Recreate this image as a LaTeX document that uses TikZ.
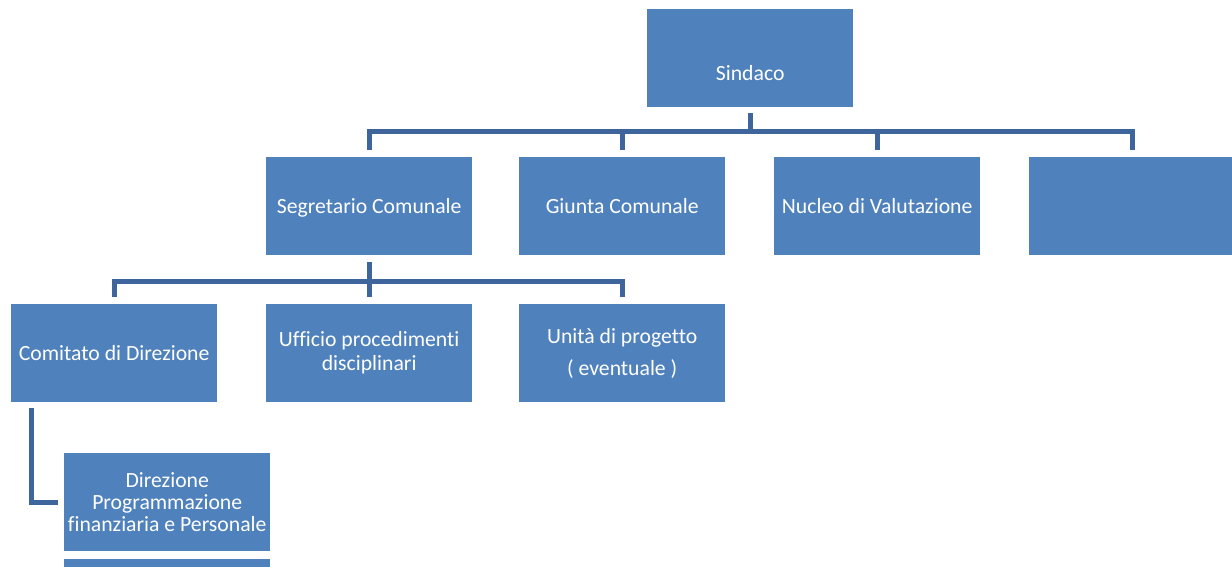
\documentclass[tikz,border=0pt]{standalone}
\usepackage{fontspec}
\setmainfont{Carlito}[Ligatures=NoCommon]
\definecolor{boxblue}{RGB}{79,129,189}
\definecolor{lineblue}{RGB}{62,102,156}
\begin{document}
\begin{tikzpicture}[x=1pt,y=-1pt,
  box/.style={fill=boxblue, minimum width=206pt, minimum height=98pt,
    inner sep=2pt, text=white, font=\fontsize{21.7}{24}\selectfont,
    align=center, anchor=north west},
  oneline/.style={text height=14pt, text depth=0pt},
  txt/.style={text=white, font=\fontsize{21.7}{24}\selectfont},
  conn/.style={draw=lineblue, line width=5pt}]
\useasboundingbox (0,0) rectangle (1232,567);

% top level
\node[box, label={[txt,yshift=-15pt]center:Sindaco}] (sind) at (647,9) {};

% second row
\node[box, oneline] (seg) at (266,157) {Segretario Comunale};
\node[box, oneline] (giu) at (519,157) {Giunta Comunale};
\node[box, oneline] (nuc) at (774,157) {Nucleo di Valutazione};
\node[box] (blank) at (1029,157) {};

% third row
\node[box, oneline] (com) at (11,304) {Comitato di Direzione};
\node[box] (uff) at (266,304) {Ufficio procedimenti\\disciplinari};
\node[box] (uni) at (519,304) {Unità di progetto\\[8pt]( eventuale )};

% directions
\node[box, font=\fontsize{21.7}{22}\selectfont] (dir) at (64,453) {Direzione\\Programmazione\\finanziaria e Personale};
\node[box] (dir2) at (64,559) {};

% connectors, Sindaco to second row
\coordinate (bar1) at (750,132);
\draw[conn] ([yshift=-6pt]sind.south) -- (sind.south |- bar1);
\draw[conn] ([yshift=7pt]seg.north) -- (seg.north |- bar1) -- (blank.north |- bar1) -- ([yshift=7pt]blank.north);
\draw[conn] ([yshift=7pt]giu.north) -- (giu.north |- bar1);
\draw[conn] ([yshift=7pt]nuc.north) -- (nuc.north |- bar1);

% connectors, Segretario to third row
\coordinate (bar2) at (369,281);
\draw[conn] ([yshift=-7pt]seg.south) -- ([yshift=7pt]uff.north);
\draw[conn] ([yshift=7pt]com.north) -- (com.north |- bar2) -- (uni.north |- bar2) -- ([yshift=7pt]uni.north);

% Comitato to Direzione
\draw[conn] ([xshift=20pt,yshift=-6pt]com.south west) |- ([xshift=-6pt]dir.west);
\end{tikzpicture}
\end{document}
